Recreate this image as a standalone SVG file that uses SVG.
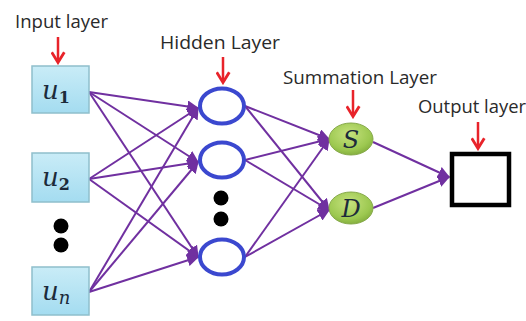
<svg xmlns="http://www.w3.org/2000/svg" width="526" height="321" viewBox="0 0 526 321">
  <style>
    .label { font-family: "Open Sans", "Liberation Sans", Arial, sans-serif; font-size: 18px; fill: #2a2a2a; }
    .math { font-family: "DejaVu Serif", "Liberation Serif", serif; font-style: italic; fill: #1c2b3a; }
    .edge { stroke: #7030a0; stroke-width: 2; fill: none; marker-end: url(#tip); }
    .pointer { stroke: #e8232a; stroke-width: 2.5; fill: none; marker-end: url(#redtip); }
    .inbox { fill: url(#blueFill); stroke: #8fbfcc; stroke-width: 1.5; }
    .hidden { fill: #fff; stroke: #3b48cf; stroke-width: 4; }
    .sum { fill: url(#greenFill); stroke: #86a94a; stroke-width: 1; }
    .dot { fill: #000; }
  </style>
  <defs>
    <marker id="tip" viewBox="0 0 10 10" refX="9" refY="5" markerWidth="6" markerHeight="6" orient="auto" markerUnits="strokeWidth">
      <path d="M0,0 L10,5 L0,10 z" fill="#7030a0"/>
    </marker>
    <marker id="redtip" viewBox="0 0 10 10" refX="8" refY="5" markerWidth="6" markerHeight="6" orient="auto" markerUnits="strokeWidth">
      <path d="M1.5,0.8 L8.3,5 L1.5,9.2" fill="none" stroke="#e8232a" stroke-width="1.9" stroke-linejoin="miter"/>
    </marker>
    <linearGradient id="blueFill" x1="0" y1="0" x2="0" y2="1">
      <stop offset="0" stop-color="#c9ecf7"/>
      <stop offset="1" stop-color="#a4dcf0"/>
    </linearGradient>
    <radialGradient id="greenFill" cx="0.45" cy="0.35" r="0.7">
      <stop offset="0" stop-color="#c6e27e"/>
      <stop offset="0.7" stop-color="#9cc850"/>
      <stop offset="1" stop-color="#7fa93a"/>
    </radialGradient>
  </defs>

  <!-- layer titles and their pointers -->
  <g id="titles">
    <text class="label" x="15" y="28" textLength="93" lengthAdjust="spacingAndGlyphs">Input layer</text>
    <line class="pointer" x1="58" y1="37" x2="58" y2="62"/>
    <text class="label" x="160" y="49" textLength="120" lengthAdjust="spacingAndGlyphs">Hidden Layer</text>
    <line class="pointer" x1="223" y1="57" x2="223" y2="82"/>
    <text class="label" x="283" y="84" textLength="154" lengthAdjust="spacingAndGlyphs">Summation Layer</text>
    <line class="pointer" x1="353" y1="90" x2="353" y2="116"/>
    <text class="label" x="418" y="113" textLength="108" lengthAdjust="spacingAndGlyphs">Output layer</text>
    <line class="pointer" x1="478" y1="122" x2="478" y2="148"/>
  </g>

  <!-- connectors -->
  <g id="connectors">
    <!-- input to hidden -->
    <line class="edge" x1="89" y1="92" x2="198" y2="108"/>
    <line class="edge" x1="89" y1="92" x2="198" y2="162"/>
    <line class="edge" x1="89" y1="92" x2="198" y2="257"/>
    <line class="edge" x1="89" y1="179" x2="198" y2="108"/>
    <line class="edge" x1="89" y1="179" x2="198" y2="162"/>
    <line class="edge" x1="89" y1="179" x2="198" y2="257"/>
    <line class="edge" x1="89" y1="292" x2="198" y2="108"/>
    <line class="edge" x1="89" y1="292" x2="198" y2="162"/>
    <line class="edge" x1="89" y1="292" x2="198" y2="257"/>
    <!-- hidden to summation -->
    <line class="edge" x1="245" y1="106" x2="329" y2="139"/>
    <line class="edge" x1="245" y1="106" x2="329" y2="210"/>
    <line class="edge" x1="245" y1="160" x2="329" y2="139"/>
    <line class="edge" x1="245" y1="160" x2="329" y2="210"/>
    <line class="edge" x1="245" y1="257" x2="329" y2="139"/>
    <line class="edge" x1="245" y1="257" x2="329" y2="210"/>
    <!-- summation to output -->
    <line class="edge" x1="373" y1="142" x2="449" y2="177"/>
    <line class="edge" x1="373" y1="208" x2="449" y2="177"/>
  </g>

  <!-- input layer -->
  <g id="input-u1">
    <rect class="inbox" x="32" y="66" width="57" height="47"/>
    <text class="math" x="42" y="99" font-size="26">u<tspan font-size="16" font-style="normal" font-weight="bold" dy="4">1</tspan></text>
  </g>
  <g id="input-u2">
    <rect class="inbox" x="32" y="153" width="57" height="49"/>
    <text class="math" x="42" y="186" font-size="26">u<tspan font-size="16" font-style="normal" font-weight="bold" dy="4">2</tspan></text>
  </g>
  <g id="input-dots">
    <circle class="dot" cx="61" cy="226" r="7.5"/>
    <circle class="dot" cx="61" cy="245" r="7.5"/>
  </g>
  <g id="input-un">
    <rect class="inbox" x="32" y="267" width="57" height="48"/>
    <text class="math" x="42" y="300" font-size="26">u<tspan font-size="18" dy="4">n</tspan></text>
  </g>

  <!-- hidden layer -->
  <g id="hidden-1">
    <ellipse class="hidden" cx="222" cy="106" rx="22" ry="17.5"/>
  </g>
  <g id="hidden-2">
    <ellipse class="hidden" cx="222" cy="160" rx="22" ry="17.5"/>
  </g>
  <g id="hidden-dots">
    <circle class="dot" cx="221" cy="198" r="7.5"/>
    <circle class="dot" cx="221" cy="219" r="7.5"/>
  </g>
  <g id="hidden-n">
    <ellipse class="hidden" cx="222" cy="257" rx="22" ry="17.5"/>
  </g>

  <!-- summation layer -->
  <g id="sum-S">
    <ellipse class="sum" cx="351" cy="139" rx="22" ry="16"/>
    <text class="math" x="351" y="147.5" font-size="24" text-anchor="middle">S</text>
  </g>
  <g id="sum-D">
    <ellipse class="sum" cx="351" cy="208" rx="22" ry="16"/>
    <text class="math" x="351" y="216.5" font-size="24" text-anchor="middle">D</text>
  </g>

  <!-- output layer -->
  <g id="output">
    <rect x="452" y="154" width="57" height="51" fill="#fff" stroke="#000" stroke-width="4.5"/>
  </g>
</svg>
